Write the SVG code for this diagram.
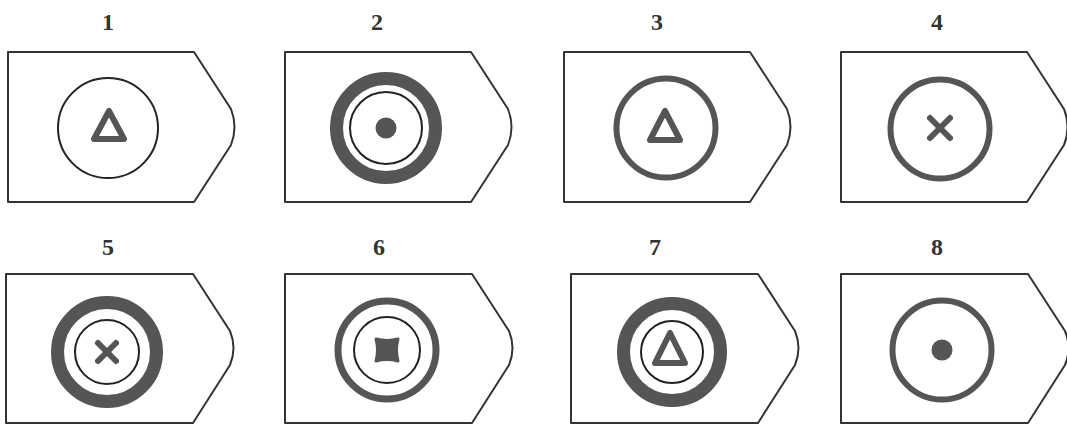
<svg xmlns="http://www.w3.org/2000/svg" width="1067" height="425" viewBox="0 0 1067 425">
<defs>
<style>
.box{fill:#fff;stroke:#333;stroke-width:2;stroke-linejoin:round}
.lbl{font-family:"Liberation Serif",serif;font-weight:bold;font-size:24px;fill:#333;text-anchor:middle}
.thin{fill:none;stroke:#222;stroke-width:2}
.mid{fill:none;stroke:#555;stroke-width:6}
.ring{fill:none;stroke:#555;stroke-width:13}
.ring7{fill:none;stroke:#555;stroke-width:7}
.tri{fill:none;stroke:#555;stroke-width:6;stroke-linejoin:round}
.x{stroke:#555;stroke-width:6;stroke-linecap:round}
.dot{fill:#555}
</style>
<path id="tag1" d="M0,0 H186 L223,57 Q230,75 223,93 L186,150 H0 Z"/>
<path id="tag2" d="M0,0 H187 L224,57 Q231,74 224,91 L187,149 H0 Z"/>
</defs>
<rect width="1067" height="425" fill="#fff"/>
<g id="node1">
<text class="lbl" x="108" y="30">1</text>
<use href="#tag1" class="box" x="8" y="52"/>
<circle class="thin" cx="108" cy="128" r="50"/>
<polygon class="tri" points="109,111 94,139 124,139"/>
</g>
<g id="node2">
<text class="lbl" x="377" y="30">2</text>
<use href="#tag1" class="box" x="285" y="52"/>
<circle class="ring" cx="386" cy="128" r="49.5"/>
<circle class="thin" cx="386" cy="128" r="36"/>
<circle class="dot" cx="386" cy="128" r="10.5"/>
</g>
<g id="node3">
<text class="lbl" x="657" y="30">3</text>
<use href="#tag1" class="box" x="564" y="52"/>
<circle class="mid" cx="666" cy="128" r="49.5"/>
<polygon class="tri" points="665,111 650,140 680,140"/>
</g>
<g id="node4">
<text class="lbl" x="937" y="30">4</text>
<use href="#tag1" class="box" x="841" y="52"/>
<circle class="mid" cx="940" cy="129" r="49.5"/>
<line class="x" x1="930" y1="118" x2="950" y2="138"/>
<line class="x" x1="950" y1="118" x2="930" y2="138"/>
</g>
<g id="node5">
<text class="lbl" x="108" y="255">5</text>
<use href="#tag2" class="box" x="6" y="274"/>
<circle class="ring" cx="107" cy="352" r="49.5"/>
<circle class="thin" cx="107" cy="352" r="32"/>
<line class="x" x1="98" y1="343" x2="116" y2="361"/>
<line class="x" x1="116" y1="343" x2="98" y2="361"/>
</g>
<g id="node6">
<text class="lbl" x="379" y="255">6</text>
<use href="#tag2" class="box" x="285" y="274"/>
<circle class="ring7" cx="387" cy="350" r="49"/>
<circle class="thin" cx="387" cy="350" r="33"/>
<path d="M376,339 Q387,342 398,339 Q395,350 398,361 Q387,358 376,361 Q379,350 376,339 Z" fill="#555" stroke="#555" stroke-width="3" stroke-linejoin="round"/>
</g>
<g id="node7">
<text class="lbl" x="655" y="255">7</text>
<use href="#tag2" class="box" x="571" y="274"/>
<circle class="ring" cx="672" cy="352" r="48.5"/>
<circle class="thin" cx="672" cy="352" r="31"/>
<polygon class="tri" points="670,333 655,363 685,363"/>
</g>
<g id="node8">
<text class="lbl" x="937" y="255">8</text>
<use href="#tag2" class="box" x="841" y="274"/>
<circle class="mid" cx="942" cy="350" r="49.5"/>
<circle class="dot" cx="942" cy="350" r="10.5"/>
</g>
<g id="connectors"/>
</svg>
